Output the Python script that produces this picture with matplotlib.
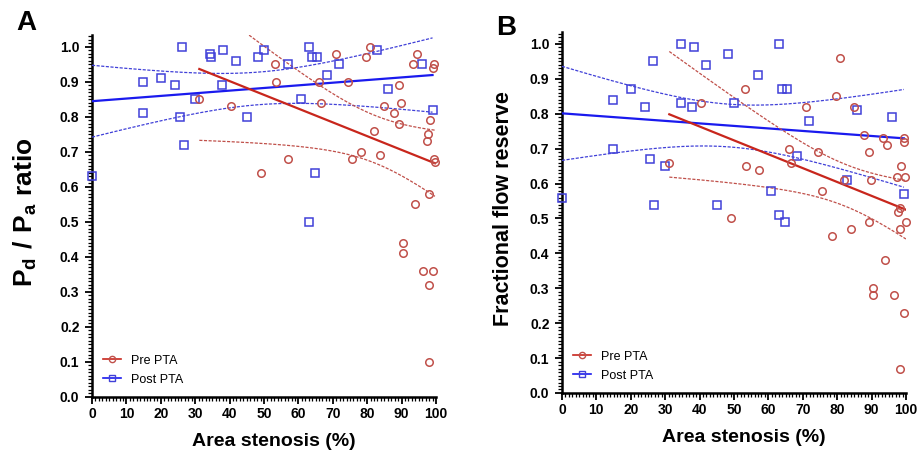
# %% biblioteke

import numpy as np
import matplotlib
matplotlib.use('Agg')
import matplotlib.pyplot as plt
from matplotlib.lines import Line2D
from matplotlib.ticker import MultipleLocator

plt.rcParams['font.family'] = ['Liberation Sans', 'DejaVu Sans']
plt.rcParams['mathtext.fontset'] = 'custom'
plt.rcParams['mathtext.rm'] = 'Liberation Sans'
plt.rcParams['mathtext.bf'] = 'Liberation Sans:bold'

# %% podaci (procitani sa slike)

# Panel A - Pd/Pa
a_pre_x = [31.2, 40.3, 53.2, 53.5, 49.1, 57.0, 66.0, 66.7, 70.9, 74.3,
           79.6, 80.8, 75.6, 78.2, 81.9, 83.7, 85.0, 87.9, 89.2, 89.7,
           89.2, 93.4, 94.4, 93.9, 99.4, 99.2, 98.4, 97.6, 97.3, 99.4,
           99.7, 98.1, 90.3, 90.3, 96.3, 99.2, 98.1, 98.1]
a_pre_y = [0.85, 0.83, 0.95, 0.90, 0.64, 0.68, 0.90, 0.84, 0.98, 0.90,
           0.97, 1.00, 0.68, 0.70, 0.76, 0.69, 0.83, 0.81, 0.89, 0.84,
           0.78, 0.95, 0.98, 0.55, 0.95, 0.94, 0.79, 0.75, 0.73, 0.68,
           0.67, 0.58, 0.44, 0.41, 0.36, 0.36, 0.32, 0.10]

a_post_x = [0.0, 14.9, 14.9, 20.0, 24.0, 25.6, 26.3, 26.8, 29.9, 34.4,
            34.6, 37.9, 38.2, 41.8, 45.2, 48.2, 49.9, 57.0, 60.8, 63.0,
            63.0, 64.0, 65.3, 64.8, 68.3, 71.9, 82.8, 86.0, 95.8, 99.0]
a_post_y = [0.63, 0.90, 0.81, 0.91, 0.89, 0.80, 1.00, 0.72, 0.85, 0.98,
            0.97, 0.89, 0.99, 0.96, 0.80, 0.97, 0.99, 0.95, 0.85, 1.00,
            0.50, 0.97, 0.97, 0.64, 0.92, 0.95, 0.99, 0.88, 0.95, 0.82]

# Panel B - FFR
b_pre_x = [31.2, 40.3, 53.2, 53.5, 49.1, 57.2, 66.0, 66.7, 70.9, 74.5,
           79.6, 80.9, 75.6, 78.4, 83.9, 89.2, 93.9, 90.3, 90.3, 96.6,
           99.4, 98.3, 98.3, 100.0, 81.9, 85.0, 87.9, 89.2, 89.7, 93.4,
           94.5, 99.4, 99.4, 98.7, 97.3, 99.7, 98.3, 97.6]
b_pre_y = [0.66, 0.83, 0.87, 0.65, 0.50, 0.64, 0.70, 0.66, 0.82, 0.69,
           0.85, 0.96, 0.58, 0.45, 0.47, 0.49, 0.38, 0.30, 0.28, 0.28,
           0.23, 0.07, 0.47, 0.49, 0.61, 0.82, 0.74, 0.69, 0.61, 0.73,
           0.71, 0.73, 0.72, 0.65, 0.62, 0.62, 0.53, 0.52]

b_post_x = [0.0, 14.9, 14.9, 20.0, 24.0, 25.7, 26.4, 26.8, 29.9, 34.6,
            34.6, 37.9, 38.3, 41.8, 45.1, 48.3, 50.1, 57.0, 60.8, 63.0,
            63.0, 64.0, 65.3, 64.8, 68.3, 71.9, 83.0, 85.9, 95.9, 99.4]
b_post_y = [0.56, 0.84, 0.70, 0.87, 0.82, 0.67, 0.95, 0.54, 0.65, 1.00,
            0.83, 0.82, 0.99, 0.94, 0.54, 0.97, 0.83, 0.91, 0.58, 1.00,
            0.51, 0.87, 0.87, 0.49, 0.68, 0.78, 0.61, 0.81, 0.79, 0.57]

x_ticks = [0, 10, 20, 30, 40, 50, 60, 70, 80, 90, 100]
y_ticks = [0.0, 0.1, 0.2, 0.3, 0.4, 0.5, 0.6, 0.7, 0.8, 0.9, 1.0]

# %% boje

RED_MK   = '#c0504a'
RED_LN   = '#c8261c'
BLUE_MK  = '#4040d8'
BLUE_LN  = '#1a1aee'

# t vrednosti (0.975) za df = n - 2
T975 = {28: 2.048, 36: 2.028}

# %% linearna regresija sa 95% CI

def fit_ci(x, y):
    x = np.asarray(x)
    y = np.asarray(y)
    n = len(x)
    b, a = np.polyfit(x, y, 1)
    res = y - (a + b * x)
    s = np.sqrt(np.sum(res ** 2) / (n - 2))
    sxx = np.sum((x - x.mean()) ** 2)
    xs = np.linspace(x.min(), x.max(), 200)
    yhat = a + b * xs
    se = s * np.sqrt(1.0 / n + (xs - x.mean()) ** 2 / sxx)
    t = T975[n - 2]
    return xs, yhat, yhat - t * se, yhat + t * se

# %% crtanje

fig = plt.figure(figsize=(9.19, 4.66), dpi=100)
ax_a = fig.add_axes([0.1001, 0.1481, 0.3743, 0.7774])
ax_b = fig.add_axes([0.6115, 0.1567, 0.3743, 0.7751])

def draw_panel(ax, pre_x, pre_y, post_x, post_y):
    for xx, yy, mk, mc, lc in [(post_x, post_y, 's', BLUE_MK, BLUE_LN),
                               (pre_x, pre_y, 'o', RED_MK, RED_LN)]:
        xs, yh, lo, hi = fit_ci(xx, yy)
        ax.plot(xs, yh, color=lc, lw=1.6, zorder=3)
        ax.plot(xs, lo, color=mc, lw=0.9, ls=(0, (2.5, 1.2)), zorder=3)
        ax.plot(xs, hi, color=mc, lw=0.9, ls=(0, (2.5, 1.2)), zorder=3)
        ax.plot(xx, yy, ls='none', marker=mk, ms=5.4 if mk == 'o' else 5.2,
                mfc='none', mec=mc, mew=1.1, clip_on=False, zorder=4)

    ax.set_xlim(0, 100)
    ax.set_ylim(0, 1.035)
    ax.set_xticks(x_ticks)
    ax.set_yticks(y_ticks)
    ax.set_yticklabels([f'{v:.1f}' for v in y_ticks])
    ax.xaxis.set_minor_locator(MultipleLocator(1))
    ax.yaxis.set_minor_locator(MultipleLocator(0.01))
    ax.tick_params(which='major', direction='out', length=5, width=1.3,
                   labelsize=10, pad=4)
    ax.tick_params(axis='x', which='major', pad=2)
    ax.tick_params(which='minor', direction='out', length=3, width=0.9)
    for lab in ax.get_xticklabels() + ax.get_yticklabels():
        lab.set_fontweight('bold')
    ax.spines['top'].set_visible(False)
    ax.spines['right'].set_visible(False)
    ax.spines['left'].set_linewidth(1.8)
    ax.spines['bottom'].set_linewidth(1.8)
    ax.set_xlabel('Area stenosis (%)', fontsize=14, fontweight='bold')
    ax.xaxis.set_label_coords(0.53, -0.10)

    handles = [Line2D([], [], color=RED_LN, lw=1.2, marker='o', ms=4.5,
                      mfc='none', mec=RED_MK, mew=1.0),
               Line2D([], [], color=BLUE_LN, lw=1.2, marker='s', ms=4.3,
                      mfc='none', mec=BLUE_MK, mew=1.0)]
    ax.legend(handles, ['Pre PTA', 'Post PTA'], loc='lower left',
              bbox_to_anchor=(0.0, 0.0), frameon=False, fontsize=9,
              handlelength=1.4, handletextpad=0.8, labelspacing=0.55)

draw_panel(ax_a, a_pre_x, a_pre_y, a_post_x, a_post_y)
draw_panel(ax_b, b_pre_x, b_pre_y, b_post_x, b_post_y)

ax_a.set_ylabel(r'$\mathbf{P_d\ /\ P_a\ ratio}$', fontsize=19)
ax_a.yaxis.set_label_coords(-0.155, 0.51)
ax_b.set_ylabel('Fractional flow reserve', fontsize=15.5, fontweight='bold')
ax_b.yaxis.set_label_coords(-0.138, 0.51)

fig.text(0.018, 0.935, 'A', fontsize=20, fontweight='bold')
fig.text(0.540, 0.925, 'B', fontsize=20, fontweight='bold')

fig.savefig('out.png', dpi=100)
